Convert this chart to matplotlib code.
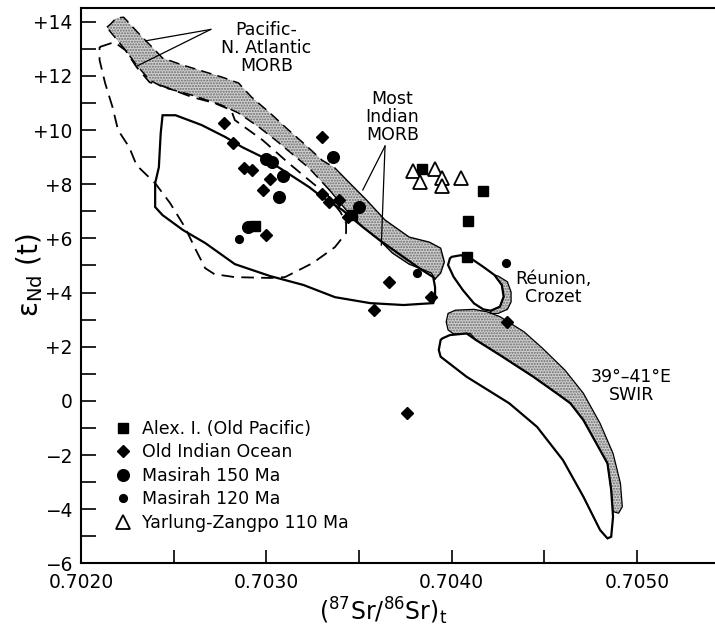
import matplotlib.pyplot as plt
from matplotlib.patches import Polygon

# ---- data ----
alex_sr = [0.70294, 0.70384, 0.70417, 0.70409, 0.70408, 0.70346]
alex_nd = [6.46, 8.56, 7.76, 6.65, 5.32, 6.86]

oio_sr = [0.70277, 0.70282, 0.70288, 0.70292, 0.70302, 0.70298, 0.70330, 0.70330,
          0.70334, 0.70339, 0.70344, 0.70300, 0.70366, 0.70389, 0.70358, 0.70430, 0.70376]
oio_nd = [10.27, 9.53, 8.61, 8.52, 8.19, 7.79, 9.75, 7.63,
          7.35, 7.42, 6.80, 6.12, 4.40, 3.82, 3.35, 2.92, -0.44]

mas150_sr = [0.70336, 0.70300, 0.70303, 0.70309, 0.70307, 0.70350, 0.70290]
mas150_nd = [8.99, 8.92, 8.83, 8.30, 7.54, 7.15, 6.43]

mas120_sr = [0.70285, 0.70381, 0.70429]
mas120_nd = [5.99, 4.73, 5.10]

yz_sr = [0.70379, 0.70383, 0.70391, 0.70395, 0.70395, 0.70405]
yz_nd = [8.50, 8.09, 8.56, 8.22, 7.93, 8.22]

# Pacific - N. Atlantic MORB field (dashed)
pac_sr = [0.70210, 0.70218, 0.70224, 0.70230, 0.70237, 0.70244, 0.70260, 0.70272,
          0.70281, 0.70283, 0.70298, 0.70312, 0.70325, 0.70333, 0.70336, 0.70340,
          0.70343, 0.70343, 0.70337, 0.70325, 0.70310, 0.70302, 0.70283, 0.70272,
          0.70267, 0.70262, 0.70256, 0.70248, 0.70240, 0.70230, 0.70226, 0.70220,
          0.70217, 0.70213, 0.70210, 0.70210]
pac_nd = [13.07, 13.25, 12.95, 12.33, 11.77, 11.63, 11.22, 11.00,
          10.74, 10.37, 9.63, 8.78, 8.04, 7.60, 7.31, 6.97,
          6.57, 6.20, 5.68, 5.09, 4.57, 4.54, 4.57, 4.68,
          4.90, 5.57, 6.42, 7.31, 8.04, 8.70, 9.37, 10.00,
          10.85, 11.74, 12.59, 13.07]

# Indian MORB field (solid)
ind_sr = [0.70244, 0.70251, 0.70265, 0.70278, 0.70287, 0.70298, 0.70309, 0.70323,
          0.70330, 0.70341, 0.70352, 0.70361, 0.70374, 0.70384, 0.70390, 0.70391,
          0.70391, 0.70390, 0.70383, 0.70374, 0.70356, 0.70337, 0.70320, 0.70302,
          0.70283, 0.70267, 0.70255, 0.70244, 0.70240, 0.70240, 0.70242, 0.70243]
ind_nd = [10.55, 10.55, 10.19, 9.74, 9.37, 9.00, 8.52, 7.90,
          7.53, 7.05, 6.42, 5.94, 5.31, 4.83, 4.57, 4.20,
          3.80, 3.61, 3.58, 3.54, 3.61, 3.83, 4.28, 4.61,
          5.05, 5.83, 6.31, 6.86, 7.16, 8.04, 8.63, 9.89]

# stippled MORB band: upper edge (tip -> bulb), then lower edge (bulb -> tip)
band_up_sr = [0.70214, 0.70216, 0.70219, 0.70223, 0.70231, 0.70240, 0.70244, 0.70255,
              0.70276, 0.70285, 0.70292, 0.70302, 0.70312, 0.70320, 0.70330, 0.70337,
              0.70345, 0.70354, 0.70364, 0.70377, 0.70388, 0.70394, 0.70396, 0.70394,
              0.70391]
band_up_nd = [13.80, 13.92, 14.14, 14.17, 13.58, 12.95, 12.66, 12.40,
              11.96, 11.74, 11.22, 10.63, 10.00, 9.52, 8.89, 8.60,
              8.04, 7.42, 6.68, 6.05, 5.86, 5.64, 5.13, 4.72,
              4.50]
band_lo_sr = [0.70391, 0.70389, 0.70377, 0.70368, 0.70361, 0.70352, 0.70344, 0.70334,
              0.70323, 0.70305, 0.70296, 0.70285, 0.70276, 0.70260, 0.70244, 0.70237,
              0.70230, 0.70224, 0.70216, 0.70214]
band_lo_nd = [4.50, 4.72, 5.05, 5.46, 5.94, 6.42, 6.97, 7.79,
              8.60, 9.63, 10.11, 10.63, 10.92, 11.29, 11.59, 11.85,
              12.40, 12.95, 13.62, 13.80]

# Reunion, Crozet
reu_sr = [0.70400, 0.70405, 0.70411, 0.70417, 0.70423, 0.70427, 0.70428, 0.70426,
          0.70421, 0.70417, 0.70412, 0.70406, 0.70401, 0.70398, 0.70399]
reu_nd = [5.32, 5.38, 5.23, 4.95, 4.65, 4.28, 3.85, 3.48,
          3.33, 3.38, 3.60, 4.09, 4.58, 5.02, 5.26]
reu_st_sr = [0.70423, 0.70425, 0.70430, 0.70432, 0.70432, 0.70430, 0.70425, 0.70421,
             0.70421, 0.70426, 0.70428, 0.70427]
reu_st_nd = [4.65, 4.61, 4.40, 4.02, 3.65, 3.38, 3.23, 3.23,
             3.33, 3.48, 3.85, 4.28]

# 39-41 E SWIR
swir_st_sr = [0.70397, 0.70398, 0.70402, 0.70412, 0.70419, 0.70426, 0.70439, 0.70449,
              0.70461, 0.70471, 0.70480, 0.70487, 0.70491, 0.70492, 0.70490, 0.70487,
              0.70486, 0.70484, 0.70478, 0.70471, 0.70464, 0.70458, 0.70444, 0.70426,
              0.70413, 0.70410, 0.70401, 0.70398]
swir_st_nd = [2.92, 3.23, 3.35, 3.38, 3.29, 3.11, 2.55, 1.94,
              1.14, 0.28, -0.83, -1.94, -3.05, -3.91, -4.15, -4.09,
              -3.29, -2.31, -1.57, -0.71, -0.09, 0.21, 0.89, 1.69,
              2.25, 2.49, 2.47, 2.62]
swir_sr = [0.70394, 0.70393, 0.70394, 0.70408, 0.70431, 0.70446, 0.70460, 0.70471,
           0.70480, 0.70484, 0.70486, 0.70487, 0.70486, 0.70484, 0.70478, 0.70471,
           0.70464, 0.70458, 0.70444, 0.70426, 0.70413, 0.70408, 0.70399, 0.70395]
swir_nd = [2.25, 1.88, 1.63, 0.89, -0.09, -0.96, -2.19, -3.54,
           -4.77, -5.08, -5.02, -4.28, -3.29, -2.31, -1.57, -0.71,
           -0.09, 0.21, 0.89, 1.69, 2.25, 2.49, 2.43, 2.31]

x_major = [0.7020, 0.7030, 0.7040, 0.7050]
x_labels = ["0.7020", "0.7030", "0.7040", "0.7050"]
y_major = [-6, -4, -2, 0, 2, 4, 6, 8, 10, 12, 14]
y_labels = ["\u22126", "\u22124", "\u22122", "0", "+2", "+4", "+6", "+8", "+10", "+12", "+14"]

stipple = dict(facecolor="#d0d0d0", edgecolor="#6a6a6a", hatch="......", linewidth=0)
dash = (0, (7, 4))

fig = plt.figure(figsize=(7.15, 6.30), dpi=100)
ax = fig.add_axes([81 / 715, 66.7 / 630, 634 / 715, 555 / 630])

# stippled fields
band_sr = band_up_sr + band_lo_sr[1:]
band_nd = band_up_nd + band_lo_nd[1:]
for sr, nd in [(band_sr, band_nd), (reu_st_sr, reu_st_nd), (swir_st_sr, swir_st_nd)]:
    ax.add_patch(Polygon(list(zip(sr, nd)), closed=True, **stipple))
for sr, nd in [(reu_st_sr, reu_st_nd), (swir_st_sr, swir_st_nd)]:
    ax.add_patch(Polygon(list(zip(sr, nd)), closed=True, fill=False,
                         edgecolor="black", linewidth=0.9))
# band outline: dashed where it bounds the Pacific field, solid further down
ax.plot(band_up_sr[:16], band_up_nd[:16], color="black", lw=1.1, ls=dash)
ax.plot(band_up_sr[15:], band_up_nd[15:], color="black", lw=1.0)
ax.plot(band_lo_sr[:8], band_lo_nd[:8], color="black", lw=1.0)
ax.plot(band_lo_sr[7:], band_lo_nd[7:], color="black", lw=1.1, ls=dash)

# outlined fields
ax.add_patch(Polygon(list(zip(pac_sr, pac_nd)), closed=True, fill=False,
                     edgecolor="black", linewidth=1.3, linestyle=dash))
for sr, nd in [(ind_sr, ind_nd), (reu_sr, reu_nd), (swir_sr, swir_nd)]:
    ax.add_patch(Polygon(list(zip(sr, nd)), closed=True, fill=False,
                         edgecolor="black", linewidth=1.6))

# leader lines
ax.plot([0.70270, 0.70235], [13.72, 13.30], color="black", lw=0.9)
ax.plot([0.70270, 0.70230], [13.72, 12.36], color="black", lw=0.9)
ax.plot([0.70364, 0.70352], [9.41, 7.79], color="black", lw=0.9)
ax.plot([0.70364, 0.70362], [9.41, 5.75], color="black", lw=0.9)

# samples
ax.plot(alex_sr, alex_nd, "s", color="black", ms=7.2, label="Alex. I. (Old Pacific)")
ax.plot(oio_sr, oio_nd, "D", color="black", ms=6.6, label="Old Indian Ocean")
ax.plot(mas150_sr, mas150_nd, "o", color="black", ms=8.4, label="Masirah 150 Ma")
ax.plot(mas120_sr, mas120_nd, "o", color="black", ms=5.6, label="Masirah 120 Ma")
ax.plot(yz_sr, yz_nd, "^", mfc="white", mec="black", mew=1.3, ms=9.5,
        label="Yarlung-Zangpo 110 Ma")

fs = 12.5
ax.text(0.70300, 13.03, "Pacific-\nN. Atlantic\nMORB", ha="center", va="center",
        fontsize=fs, linespacing=1.0)
ax.text(0.70368, 10.48, "Most\nIndian\nMORB", ha="center", va="center",
        fontsize=fs, linespacing=1.0)
ax.text(0.70455, 4.17, "R\u00e9union,\nCrozet", ha="center", va="center",
        fontsize=fs, linespacing=1.0)
ax.text(0.70497, 0.55, "39\u00b0\u201341\u00b0E\nSWIR", ha="center", va="center",
        fontsize=fs, linespacing=1.0)

ax.set_xlim(0.7020, 0.70542)
ax.set_ylim(-6, 14.5)
ax.set_xticks(x_major)
ax.set_xticklabels(x_labels)
ax.set_xticks([0.7025, 0.7035, 0.7045], minor=True)
ax.set_yticks(y_major)
ax.set_yticklabels(y_labels)
ax.set_yticks(range(-5, 15, 2), minor=True)
ax.tick_params(axis="x", which="both", direction="in", length=9.5, width=1.2,
               labelsize=13.4, pad=7)
ax.tick_params(axis="y", which="both", direction="in", length=10.5, width=1.2,
               labelsize=13.4, pad=6)
for s in ["left", "bottom", "top"]:
    ax.spines[s].set_linewidth(1.5)
ax.spines["right"].set_visible(False)

ax.set_xlabel(r"($\mathregular{^{87}}$Sr/$\mathregular{^{86}}$Sr)$\mathregular{_t}$",
              fontsize=17)
ax.xaxis.set_label_coords(0.476, -0.058)
ax.set_ylabel("\u03b5$\\mathregular{_{Nd}}$ (t)", fontsize=20)
ax.yaxis.set_label_coords(-0.057, 0.52)

ax.legend(loc="upper left", bbox_to_anchor=(0.052, 0.258), frameon=False,
          fontsize=fs, handlelength=1.0, handletextpad=0.6, labelspacing=0.31,
          borderpad=0, borderaxespad=0, numpoints=1)

fig.savefig("out.png", dpi=100)
